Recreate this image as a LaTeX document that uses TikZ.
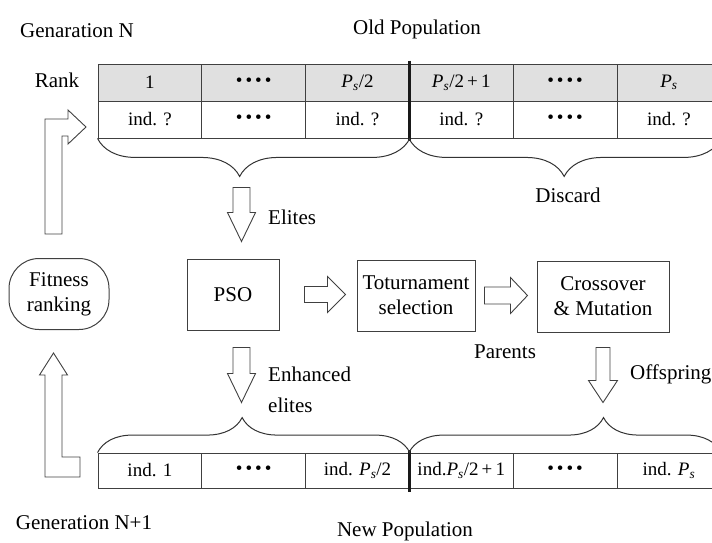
\documentclass[tikz,border=0pt]{standalone}
\usepackage{fontspec}
\setmainfont{Liberation Serif}
\usepackage{amsmath}
\usetikzlibrary{decorations.pathreplacing}

\newcommand{\fourdots}{\textbullet\hspace{3pt}\textbullet\hspace{3pt}\textbullet\hspace{3pt}\textbullet}
\newcommand{\Psz}{\textit{P}\textsubscript{\textit{s}}}

\begin{document}
\begin{tikzpicture}[x=1pt,y=-1pt]
\fontsize{21pt}{25pt}\selectfont
\tikzstyle{cell}=[draw=black!75,line width=0.9pt,minimum width=103.8pt,minimum height=37pt,inner sep=0pt,font=\fontsize{19pt}{19pt}\selectfont]
\tikzstyle{box}=[draw=black!75,line width=1pt,minimum height=71pt,inner sep=0pt,align=center]
\tikzstyle{brc}=[draw=black!80,line width=1pt,decorate]
\tikzstyle{arr}=[draw=black!75,line width=0.9pt]
\tikzstyle{thickdiv}=[draw=black!90,line width=3pt]
\tikzset{pics/hollow/.style n args={4}{code={
	\draw[pic actions] (0,-#3/2) -- (#1-#2,-#3/2) -- (#1-#2,-#4/2) -- (#1,0) -- (#1-#2,#4/2) -- (#1-#2,#3/2) -- (0,#3/2) -- cycle;}}}
	\clip (0,0) rectangle (712,542);

	\foreach \i/\t in {1/1,2/\fourdots,3/{\Psz/2},4/{\Psz/2\,+\,1},5/\fourdots,6/{\Psz}}
		\node[cell,fill=black!12] (r\i) at (46.1+103.8*\i,82.5) {\t};
	\foreach \i/\t in {1/{ind. ?},2/\fourdots,3/{ind. ?},4/{ind. ?},5/\fourdots,6/{ind. ?}}
		\node[cell] (o\i) at (46.1+103.8*\i,119.5) {\t};
	\foreach \i/\t in {1/{ind. 1},2/\fourdots,3/{ind. \Psz/2},4/{ind.\Psz/2\,+\,1},5/\fourdots,6/{ind. \Psz}}
		\node[cell,minimum height=35pt] (n\i) at (46.1+103.8*\i,470.5) {\t};

	\draw[thickdiv] ([yshift=3pt]r3.north east) -- ([yshift=-3pt]o3.south east);
	\draw[thickdiv] ([yshift=3pt]n3.north east) -- ([yshift=-4pt]n3.south east);

	\draw[brc,decoration={brace,mirror,amplitude=38pt,aspect=0.455}] (o1.south west) -- (o3.south east);
	\draw[brc,decoration={brace,mirror,amplitude=38pt,aspect=0.497}] (o4.south west) -- (o6.south east);
	\draw[brc,decoration={brace,amplitude=35pt,aspect=0.463}] (n1.north west) -- (n3.north east);
	\draw[brc,decoration={brace,amplitude=35pt,aspect=0.623}] (n4.north west) -- (n6.north east);

	\node[box,rounded corners=30pt,minimum width=100pt] (fit) at (59,294) {Fitness\\ranking};
	\node[box,minimum width=92pt] (pso) at (233,294.5) {PSO};
	\node[box,minimum width=118pt] (tour) at (416,295.5) {Toturnament\\selection};
	\node[box,minimum width=132pt] (cross) at (603,296.5) {Crossover\\\& Mutation};

	\pic[arr,rotate=-90] at ([xshift=8.5pt,yshift=71pt]pso.north) {hollow={54}{29}{17}{28}};
	\pic[arr,rotate=-90] at ([xshift=8.5pt,yshift=-17pt]pso.south) {hollow={55}{29}{17}{28}};
	\pic[arr] at ([xshift=25pt]pso.east) {hollow={41}{18}{16}{36}};
	\pic[arr] at ([xshift=9pt]tour.east) {hollow={43}{17}{17}{36}};
	\pic[arr,rotate=-90] at ([yshift=-15pt]cross.south) {hollow={55}{22}{14}{29}};

	\draw[arr] (45,234) -- (45,119) -- (68,119) -- (68,110) -- (86,127) -- (68,144) -- (68,136) -- (62,136) -- (62,234) -- cycle;
	\draw[arr] (80,477) -- (45,477) -- (45,375) -- (39.5,375) -- (53.5,353) -- (67.5,375) -- (62,375) -- (62,457) -- (80,457) -- cycle;

	\node (gen) at (77,31) {Genaration N};
	\node (oldpop) at (417,29) {Old Population};
	\node (rank) at (57,80) {Rank};
	\node (discard) at (568,195) {Discard};
	\node[anchor=west] (elites) at (261,217) {Elites};
	\node[anchor=west,align=left,font=\fontsize{21pt}{31pt}\selectfont] (enh) at (261,390) {Enhanced\\elites};
	\node (parents) at (505,352) {Parents};
	\node[anchor=west] (offspring) at (623,374) {Offspring};
	\node (gennext) at (84,523) {Generation N+1};
	\node (newpop) at (405,531) {New Population};
\end{tikzpicture}
\end{document}
